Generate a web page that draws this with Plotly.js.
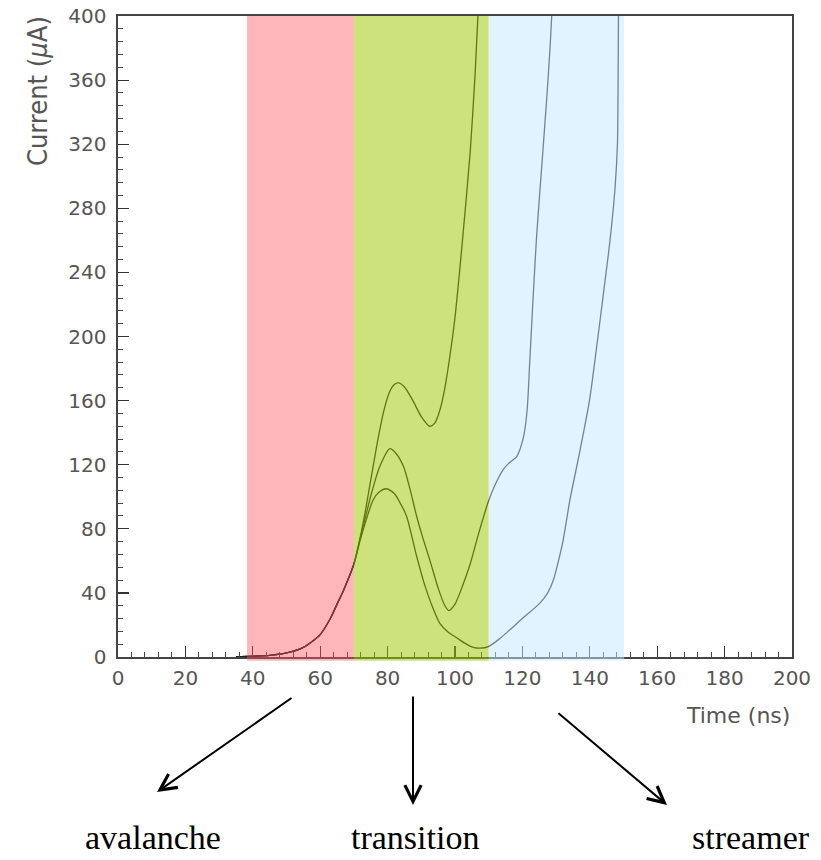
<!DOCTYPE html>
<html>
<head>
<meta charset="utf-8">
<script src="https://cdn.plot.ly/plotly-3.0.1.min.js"></script>
<style>html,body{margin:0;padding:0;background:#fff;}#chart{width:821px;height:860px;}</style>
</head>
<body>
<div id="chart"></div>
<script>
// ---- data ----
const timeA = [35, 40, 45, 50, 55, 60, 63, 65, 67, 70, 72, 73.3, 74.8, 76.8, 78.7, 80.5, 82, 83.2, 85, 87.5, 90, 92.5, 94, 95.5, 97, 98.5, 100, 102, 104.5, 106, 106.8];
const currentA = [0, 0.5, 1, 2.5, 6, 14, 24, 33, 42, 58, 76, 90, 108, 132, 152, 165, 170, 171, 168.5, 160, 150, 144, 146, 154, 168, 188, 212, 255, 315, 365, 400];

const timeB = [35, 40, 45, 50, 55, 60, 63, 65, 67, 70, 72, 75.2, 77.7, 80.7, 82.5, 84.7, 86.5, 88.6, 90.5, 92.6, 95, 97, 98.2, 100, 102, 104.5, 107, 109.9, 112, 114.3, 116, 118.3, 120.3, 121.4, 122.2, 123.2, 124.2, 125.7, 127.2, 128.2, 128.7];
const currentB = [0, 0.5, 1, 2.5, 6, 14, 24, 33, 42, 58, 75, 102, 119, 130, 127, 119, 106, 88, 74, 60, 43, 32, 29, 33, 43, 58, 77, 97, 108, 117, 121, 125, 137, 154, 185, 225, 262, 305, 348, 380, 400];

const timeC = [35, 40, 45, 50, 55, 60, 63, 65, 67, 70, 72, 75.7, 77.5, 79.7, 82, 83.5, 85.6, 88.6, 91, 93, 95.5, 98, 100.5, 103, 105.4, 107.5, 109.9, 113, 116.3, 120, 125.2, 127.5, 129.2, 130.7, 132.1, 134.1, 137.1, 139.9, 142, 144, 146, 147.5, 148.2, 148.4, 148.5];
const currentC = [0, 0.5, 1, 2.5, 6, 14, 24, 33, 42, 58, 74, 98, 103, 105, 102, 97, 88, 63, 45, 33, 21, 15.5, 12, 8.5, 6, 5.5, 6.5, 11, 17, 24, 33.6, 40, 48, 60, 73, 98, 129, 160, 193, 226, 260, 293, 320, 360, 400];

const regionNames = ['avalanche', 'transition', 'streamer'];
const regionStart = [38.3, 70, 110];
const regionEnd = [70, 110, 150.2];

const xTicks = [0, 20, 40, 60, 80, 100, 120, 140, 160, 180, 200];
const yTicks = [0, 40, 80, 120, 160, 200, 240, 280, 320, 360, 400];

// ---- styling ----
// translucent overlays (drawn above the curves, like the reference)
const regionColors = ['rgba(255,86,95,0.43)', 'rgba(157,199,3,0.52)', 'rgba(196,231,253,0.51)'];
const lineStyle = {color: '#1e1e1e', width: 1.3, shape: 'spline', smoothing: 0.7};

const traces = [
  {x: timeA, y: currentA, mode: 'lines', line: lineStyle, hoverinfo: 'skip'},
  {x: timeB, y: currentB, mode: 'lines', line: lineStyle, hoverinfo: 'skip'},
  {x: timeC, y: currentC, mode: 'lines', line: lineStyle, hoverinfo: 'skip'}
];

const shapes = regionNames.map((n, i) => ({
  type: 'rect', xref: 'x', yref: 'paper',
  x0: regionStart[i], x1: regionEnd[i], y0: -0.006, y1: 1,
  fillcolor: regionColors[i], line: {width: 0}, layer: 'above'
}));

// plot area geometry (pixels) for placing the outside labels/arrows
const L = 118, R = 29, T = 16, B = 203, W = 821, H = 860;
const pw = W - L - R, ph = H - T - B;
const px = v => (v - L) / pw;
const py = v => (H - B - v) / ph;

const tickFont = {family: 'DejaVu Sans, sans-serif', size: 20, color: '#555'};
const titleFont = {family: 'Liberation Sans Narrow, DejaVu Sans Condensed, sans-serif', size: 27, color: '#555'};
const arrowStyle = {text: '', showarrow: true, arrowhead: 5, arrowwidth: 2, arrowsize: 1.6, arrowcolor: '#000', standoff: 0};
const annotations = [
  {xref: 'paper', yref: 'paper', x: px(38), y: py(91), xanchor: 'center', yanchor: 'middle',
   text: 'Current (<i>µ</i>A)', textangle: -90, showarrow: false, font: titleFont},
  {xref: 'paper', yref: 'paper', x: px(792), y: py(715), xanchor: 'right', yanchor: 'middle', text: 'Time (ns)',
   showarrow: false, font: {family: 'DejaVu Sans, sans-serif', size: 22, color: '#555'}},
  Object.assign({xref: 'paper', yref: 'paper', x: px(157), y: py(792), ax: 136, ay: -95}, arrowStyle),
  Object.assign({xref: 'paper', yref: 'paper', x: px(413), y: py(805), ax: 0, ay: -110}, arrowStyle),
  Object.assign({xref: 'paper', yref: 'paper', x: px(667), y: py(805), ax: -110, ay: -93}, arrowStyle)
];
const labelX = [153, 415, 751];
regionNames.forEach((n, i) => annotations.push({
  xref: 'paper', yref: 'paper', x: px(labelX[i]), y: py(837), xanchor: 'center', yanchor: 'middle',
  text: n, showarrow: false, borderpad: 0,
  font: {family: 'Liberation Serif, Times New Roman, serif', size: 34, color: '#000'}
}));

const layout = {
  width: W, height: H,
  margin: {l: L, r: R, t: T, b: B, pad: 0},
  paper_bgcolor: '#fff', plot_bgcolor: '#fff',
  showlegend: false,
  xaxis: {
    range: [0, 200], tickvals: xTicks, ticktext: xTicks.map(String),
    ticks: 'inside', ticklen: 11, tickwidth: 1.2, tickcolor: '#333',
    minor: {dtick: 4, tick0: 0, ticks: 'inside', ticklen: 5, tickwidth: 1, tickcolor: '#444', showgrid: false},
    showline: true, linecolor: '#444', linewidth: 1.6, mirror: true,
    showgrid: false, zeroline: false, tickfont: tickFont, ticklabelstandoff: 2, fixedrange: true
  },
  yaxis: {
    range: [0, 400], tickvals: yTicks, ticktext: yTicks.map(String),
    ticks: 'inside', ticklen: 11, tickwidth: 1.2, tickcolor: '#333',
    minor: {dtick: 8, tick0: 0, ticks: 'inside', ticklen: 5, tickwidth: 1, tickcolor: '#444', showgrid: false},
    showline: true, linecolor: '#444', linewidth: 1.6, mirror: true,
    showgrid: false, zeroline: false, tickfont: tickFont, ticklabelstandoff: 6, fixedrange: true
  },
  shapes: shapes,
  annotations: annotations
};

Plotly.newPlot('chart', traces, layout, {displayModeBar: false, staticPlot: true});
</script>
</body>
</html>
